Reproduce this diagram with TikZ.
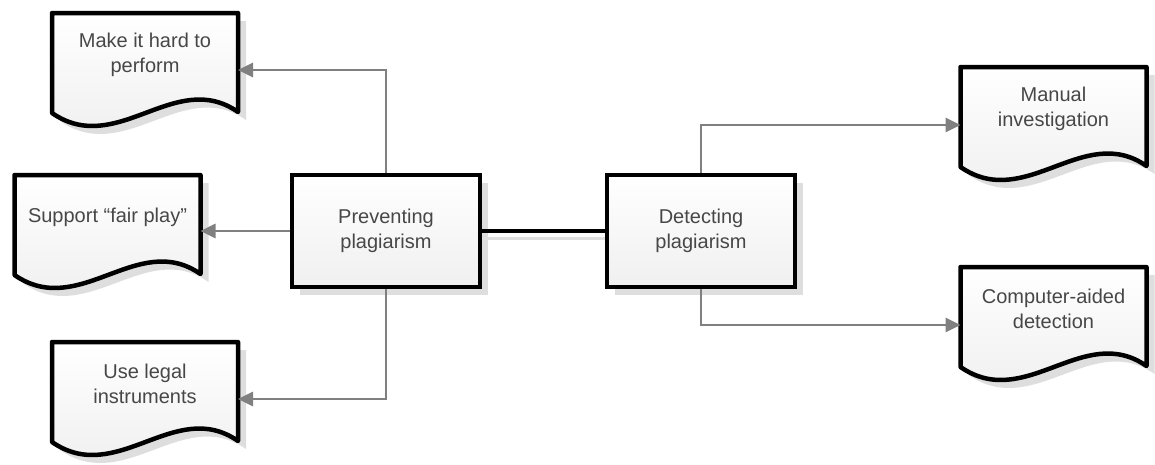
\documentclass[tikz,border=0pt]{standalone}
\usepackage{fontspec}
\setmainfont{Liberation Sans}
\usetikzlibrary{arrows.meta,shadows,calc}
\newcommand\docoutline[1]{%
  \draw[docline] (#1.north west) -- (#1.north east) -- ($(#1.north east)+(0,-99)$)
    .. controls ($(#1.north east)+(-63,-55)$) and ($(#1.north west)+(65,-145)$) ..
    ($(#1.north west)+(0,-100)$) -- cycle;}
\begin{document}
\begin{tikzpicture}[x=1pt,y=1pt,
  txt/.style={font=\fontsize{20}{25}\selectfont, text=black!72, align=center},
  procbox/.style={txt, draw=black, line width=4.5pt, minimum width=188pt, minimum height=112pt,
    top color=white, bottom color=black!6,
    drop shadow={shadow xshift=8pt, shadow yshift=-8pt, fill=black!16, opacity=0.8}},
  docbox/.style={txt, minimum width=186pt, minimum height=84pt, inner sep=0pt, outer sep=0pt},
  docline/.style={draw=black, line width=4.5pt, line join=round,
    top color=white, bottom color=black!7,
    drop shadow={shadow xshift=8pt, shadow yshift=-8pt, fill=black!16, opacity=0.8}},
  arr/.style={draw=black!50, line width=2.7pt, -{Triangle[length=15pt,width=14pt]}},
  link/.style={draw=black, line width=3.5pt,
    preaction={draw=black!12, line width=3pt, transform canvas={shift={(0,-7)}}}}
]
\useasboundingbox (0,0) rectangle (1155,-464);

% process boxes
\node[procbox] (prev) at (386,-231) {Preventing\\plagiarism};
\node[procbox] (det) at (701,-231) {Detecting\\plagiarism};

% document boxes
\node[docbox] (mh) at (145,-55) {};
\node[docbox] (sfp) at (107.5,-217) {};
\node[docbox] (ul) at (145,-384) {};
\node[docbox] (mi) at (1053.5,-109) {};
\node[docbox] (ca) at (1053.5,-309) {};

\docoutline{mh}
\docoutline{sfp}
\docoutline{ul}
\docoutline{mi}
\docoutline{ca}

\node[txt] at (mh.center) {Make it hard to\\perform};
\node[txt] at (sfp.center) {Support ``fair play''};
\node[txt] at (ul.center) {Use legal\\instruments};
\node[txt] at (mi.center) {Manual\\investigation};
\node[txt] at (ca.center) {Computer-aided\\detection};

% connectors
\draw[link] (prev.east) -- (det.west);
\draw[arr] (prev.north) |- ([yshift=-15pt]mh.east);
\draw[arr] (prev.west) -- (prev.west -| sfp.east);
\draw[arr] (prev.south) |- ([yshift=-15pt]ul.east);
\draw[arr] (det.north) |- ([yshift=-16pt]mi.west);
\draw[arr] (det.south) |- ([yshift=-16pt]ca.west);
\end{tikzpicture}
\end{document}
